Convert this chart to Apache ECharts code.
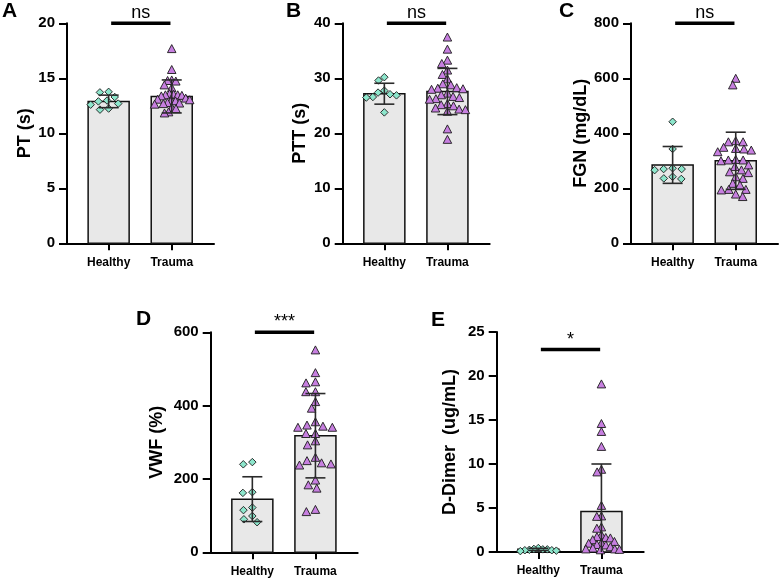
<!DOCTYPE html>
<html><head><meta charset="utf-8">
<script src="https://cdn.jsdelivr.net/npm/echarts@6/dist/echarts.min.js"></script>
<style>html,body{margin:0;padding:0;background:#fff}#c{width:781px;height:580px}</style>
</head><body><div id="c"></div>
<script>
// ---------- data ----------
const categories = ['Healthy', 'Trauma'];
const panelLetters = ['A', 'B', 'C', 'D', 'E'];
const yAxisNames = ['PT (s)', 'PTT (s)', 'FGN (mg/dL)', 'VWF (%)', 'D-Dimer  (ug/mL)'];
const yMaxValues = [20, 40, 800, 600, 25];
const yIntervals = [5, 10, 200, 200, 5];
const significance = ['ns', 'ns', 'ns', '***', '*'];
const sigLevels = [20, 40, 800, 600, 23];

const ptHealthy = [13.77, 13.72, 13.3, 12.98, 12.9, 12.7, 12.6, 12.25, 12.15];
const ptTrauma = [17.7, 15.8, 14.85, 14.8, 14.75, 14.4, 14.15, 13.6, 13.55, 13.5, 13.5, 13.45, 13.4, 13.2, 13.1, 13.05, 13.0, 12.95, 12.8, 12.75, 12.7, 12.65, 12.35, 12.25, 11.95, 11.85];
const ptMean = [12.9, 13.35], ptSD = [0.57, 1.5];

const pttHealthy = [30.2, 29.6, 27.75, 27.4, 27.1, 26.9, 26.6, 26.5, 23.8];
const pttTrauma = [37.5, 35.3, 33.3, 32.7, 31.5, 30.7, 29.9, 29.0, 28.8, 28.3, 28.2, 28.1, 28.0, 27.3, 27.0, 26.7, 26.5, 26.3, 26.2, 25.4, 25.2, 25.0, 24.6, 24.4, 24.3, 24.0, 20.8, 18.9];
const pttMean = [27.2, 27.6], pttSD = [1.9, 4.2];

const fgnHealthy = [442, 343, 273, 270, 270, 266, 242, 236, 234];
const fgnTrauma = [600, 576, 373, 369, 369, 349, 345, 343, 339, 333, 305, 303, 303, 300, 285, 279, 267, 260, 257, 242, 236, 218, 212, 196, 196, 194, 179, 170];
const fgnMean = [285, 300], fgnSD = [67, 104];

const vwfHealthy = [246, 240, 164, 162, 122, 115, 99, 90, 82];
const vwfTrauma = [552, 490, 465, 462, 438, 438, 411, 393, 356, 347, 344, 341, 341, 324, 324, 304, 293, 259, 250, 244, 241, 238, 197, 184, 175, 117, 111];
const vwfMean = [145, 318], vwfSD = [61, 115];

const ddHealthy = [0.45, 0.35, 0.3, 0.3, 0.25, 0.2, 0.2, 0.15, 0.1];
const ddTrauma = [19.1, 14.6, 13.7, 12.0, 9.4, 9.1, 5.3, 4.1, 4.05, 2.85, 2.7, 1.95, 1.75, 1.65, 1.6, 1.4, 1.2, 1.05, 1.0, 0.85, 0.8, 0.6, 0.45, 0.35, 0.35, 0.3, 0.25];
const ddMean = [0.3, 4.6], ddSD = [0.12, 5.4];

const healthyValues = [ptHealthy, pttHealthy, fgnHealthy, vwfHealthy, ddHealthy];
const traumaValues = [ptTrauma, pttTrauma, fgnTrauma, vwfTrauma, ddTrauma];
const meanValues = [ptMean, pttMean, fgnMean, vwfMean, ddMean];
const sdValues = [ptSD, pttSD, fgnSD, vwfSD, ddSD];

// ---------- layout & style ----------
const FONT = '"Liberation Sans", Arial, Helvetica, sans-serif';
const GRID_W = 147, GRID_H = 220, X_MIN = -0.66, X_MAX = 1.67;
const PX_PER_X = GRID_W / (X_MAX - X_MIN);
const layouts = [
  { left: 67, top: 23.3, nameGap: 33, letter: [2, 1] },
  { left: 342.7, top: 23.3, nameGap: 34, letter: [286, 1] },
  { left: 631, top: 23.3, nameGap: 40, letter: [559, 1] },
  { left: 210.7, top: 332.3, nameGap: 45, letter: [136, 309] },
  { left: 496.7, top: 332, nameGap: 38, letter: [431, 310] }
];
const HEALTHY_COLOR = '#8de6cc', TRAUMA_COLOR = '#c77fe0';

// beeswarm layout (elliptical collision, pixel units)
function swarm(values, pxPerUnit, dX, dY, maxHalf) {
  const idx = values.map((v, i) => i).sort((a, b) => values[b] - values[a]);
  const placed = [], off = new Array(values.length);
  const free = (x, y) => placed.every(q => ((q.x - x) / dX) ** 2 + ((q.y - y) / dY) ** 2 >= 1 - 1e-6);
  for (const i of idx) {
    const y = values[i] * pxPerUnit;
    const cands = [0];
    for (const q of placed) {
      const dy = y - q.y;
      if (Math.abs(dy) < dY) { const dx = dX * Math.sqrt(1 - (dy / dY) ** 2); cands.push(q.x + dx, q.x - dx); }
    }
    cands.sort((a, b) => Math.abs(a) - Math.abs(b) || a - b);
    let x = 0;
    for (const c of cands) { if (free(c, y)) { x = c; break; } }
    placed.push({ x, y }); off[i] = x;
  }
  const m = Math.max(...off.map(Math.abs));
  const s = m > maxHalf ? maxHalf / m : 1;
  return off.map(o => o * s);
}

const grids = [], xAxes = [], yAxes = [], series = [], titles = [];
layouts.forEach((L, k) => {
  grids.push({ left: L.left, top: L.top, width: GRID_W, height: GRID_H });
  titles.push({ text: panelLetters[k], left: L.letter[0], top: L.letter[1], padding: 0,
    textStyle: { fontSize: 21, fontWeight: 'bold', fontFamily: FONT, color: '#000' } });
  xAxes.push({
    type: 'value', gridIndex: k, min: X_MIN, max: X_MAX,
    axisLine: { show: true, onZero: false, lineStyle: { color: '#000', width: 2 } },
    axisTick: { show: true, length: 7, customValues: [0, 1], lineStyle: { color: '#000', width: 2 } },
    axisLabel: { customValues: [0, 1], formatter: v => categories[Math.round(v)], margin: 13,
      fontSize: 12, fontWeight: 'bold', fontFamily: FONT, color: '#000' },
    splitLine: { show: false }
  });
  yAxes.push({
    type: 'value', gridIndex: k, min: 0, max: yMaxValues[k], interval: yIntervals[k],
    name: yAxisNames[k], nameLocation: 'middle', nameGap: L.nameGap,
    nameTextStyle: { fontSize: 18, fontWeight: 'bold', fontFamily: FONT, color: '#000' },
    axisLine: { show: true, onZero: false, lineStyle: { color: '#000', width: 2 } },
    axisTick: { show: true, length: 8, lineStyle: { color: '#000', width: 2 } },
    axisLabel: { margin: 12, fontSize: 15, fontWeight: 'bold', fontFamily: FONT, color: '#000' },
    splitLine: { show: false }
  });
  const pxPerY = GRID_H / yMaxValues[k];
  const means = meanValues[k], sds = sdValues[k];
  // bars
  series.push({
    type: 'custom', xAxisIndex: k, yAxisIndex: k, z: 1, silent: true,
    data: categories.map((c, i) => [i, means[i]]),
    renderItem: (params, api) => {
      const i = api.value(0), m = api.value(1);
      const p0 = api.coord([i - 0.325, m]), p1 = api.coord([i + 0.325, 0]);
      return { type: 'rect', shape: { x: p0[0], y: p0[1], width: p1[0] - p0[0], height: p1[1] - p0[1] },
        style: { fill: '#e8e8e8', stroke: '#111', lineWidth: 1.5 } };
    }
  });
  // points
  [[healthyValues[k], 0, 'diamond', 7.5, HEALTHY_COLOR], [traumaValues[k], 1, 'triangle', [8.5, 8], TRAUMA_COLOR]]
    .forEach(([vals, ci, sym, size, col]) => {
      const offs = swarm(vals, pxPerY, 9.5, 7.2, 18);
      series.push({
        type: 'scatter', xAxisIndex: k, yAxisIndex: k, z: 3, symbol: sym, symbolSize: size,
        data: vals.map((v, j) => [ci + offs[j] / PX_PER_X, v]),
        itemStyle: { color: col, borderColor: '#1a1a1a', borderWidth: 0.9, opacity: 1 }
      });
    });
  // error bars
  series.push({
    type: 'custom', xAxisIndex: k, yAxisIndex: k, z: 4, silent: true,
    data: categories.map((c, i) => [i, means[i], sds[i]]),
    renderItem: (params, api) => {
      const i = api.value(0), m = api.value(1), s = api.value(2);
      const top = api.coord([i, m + s]), bot = api.coord([i, Math.max(0, m - s)]);
      const lo = m - s > 0;
      const st = { stroke: '#2a2a2a', lineWidth: 1.6 };
      const children = [
        { type: 'line', shape: { x1: top[0], y1: top[1], x2: bot[0], y2: bot[1] }, style: st },
        { type: 'line', shape: { x1: top[0] - 10, y1: top[1], x2: top[0] + 10, y2: top[1] }, style: st }
      ];
      if (lo) children.push({ type: 'line', shape: { x1: bot[0] - 10, y1: bot[1], x2: bot[0] + 10, y2: bot[1] }, style: st });
      return { type: 'group', children };
    }
  });
  // significance
  series.push({
    type: 'custom', xAxisIndex: k, yAxisIndex: k, z: 5, silent: true,
    data: [[0.04, 0.98, sigLevels[k]]],
    renderItem: (params, api) => {
      const a = api.coord([api.value(0), api.value(2)]), b = api.coord([api.value(1), api.value(2)]);
      return { type: 'group', children: [
        { type: 'line', shape: { x1: a[0], y1: a[1], x2: b[0], y2: b[1] }, style: { stroke: '#000', lineWidth: 3.5 } },
        { type: 'text', style: { text: significance[k], x: (a[0] + b[0]) / 2, y: a[1] - 1, align: 'center',
          verticalAlign: 'bottom', fontSize: 18, fontFamily: FONT, fill: '#000' } }
      ] };
    }
  });
});

const chart = echarts.init(document.getElementById('c'), null, { renderer: 'canvas' });
chart.setOption({
  animation: false, backgroundColor: '#fff',
  title: titles, grid: grids, xAxis: xAxes, yAxis: yAxes, series
});
</script></body></html>
